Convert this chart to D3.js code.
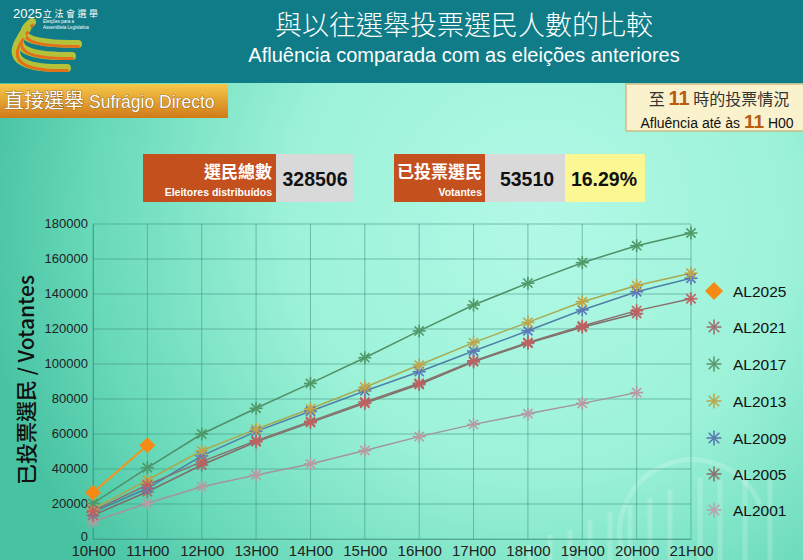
<!DOCTYPE html>
<html><head><meta charset="utf-8">
<script src="https://cdn.jsdelivr.net/npm/d3@7"></script>
<style>
html,body{margin:0;padding:0;overflow:hidden;background:#0f7c88}
svg{display:block;font-family:"Liberation Sans",Arial,sans-serif}
</style></head><body>
<svg id="c" width="803" height="560"></svg>
<script>
const hours = ["10H00","11H00","12H00","13H00","14H00","15H00","16H00","17H00","18H00","19H00","20H00","21H00"];
const seriesNames = ["AL2025","AL2021","AL2017","AL2013","AL2009","AL2005","AL2001"];
const al2025 = [26500, 53510];
const al2021 = [16000, 30900, 44200, 56200, 67200, 78300, 89000, 101800, 112300, 121700, 130500, 137279];
const al2017 = [20400, 40700, 60000, 74700, 88900, 103600, 118900, 133700, 146200, 157900, 167600, 174872];
const al2013 = [17000, 33700, 50400, 62700, 74400, 86700, 99400, 112200, 123800, 135600, 144800, 151881];
const al2009 = [15300, 29000, 47500, 61500, 73000, 84600, 95600, 107400, 119000, 130900, 141300, 149006];
const al2005 = [13500, 27000, 42300, 55500, 66500, 77500, 88300, 101200, 111800, 121000, 128830];
const al2001 = [10000, 20400, 29900, 36600, 42900, 50600, 58500, 65500, 71600, 77500, 83644];
const yTicks = [0,20000,40000,60000,80000,100000,120000,140000,160000,180000];
const totalElectors = 328506;
const voters = 53510;
const pct = "16.29%";
const currentHour = "11";

const svg = d3.select("#c");
const W = 803, H = 560;
const defs = svg.append("defs");
const CJK = "'Noto Sans CJK TC','Noto Sans CJK SC',sans-serif";

// background gradient
const rg = defs.append("radialGradient").attr("id","bg").attr("gradientUnits","userSpaceOnUse")
  .attr("cx",540).attr("cy",220).attr("r",560);
rg.append("stop").attr("offset","0").attr("stop-color","#b2f9e7");
rg.append("stop").attr("offset","0.45").attr("stop-color","#9cf2d8");
rg.append("stop").attr("offset","0.8").attr("stop-color","#68d9b9");
rg.append("stop").attr("offset","1").attr("stop-color","#48c3a2");
svg.append("rect").attr("width",W).attr("height",H).attr("fill","url(#bg)");

// header
svg.append("rect").attr("width",W).attr("height",83).attr("fill","#0f7c88");
svg.append("text").attr("x",464).attr("y",35).attr("text-anchor","middle")
  .attr("font-family",CJK).attr("font-size",27).attr("font-weight",300)
  .attr("fill","#fff").text("與以往選舉投票選民人數的比較");
svg.append("text").attr("x",464).attr("y",62).attr("text-anchor","middle")
  .attr("font-size",20).attr("fill","#fff").text("Afluência comparada com as eleições anteriores");

// logo
const logo = svg.append("g");
const arcPaths = ["M32,22 Q4,44 78,44","M27,29 Q1,57 72,56","M22,36 Q-2,70 67,68"];
arcPaths.forEach(p=>{
  logo.append("path").attr("d",p).attr("fill","none").attr("stroke","#b4c23a").attr("stroke-width",8).attr("stroke-linecap","round");
  logo.append("path").attr("d",p).attr("fill","none").attr("stroke","#e0701c").attr("stroke-width",3).attr("transform","translate(1.5,2.5)");
});
logo.append("text").attr("x",13).attr("y",18).attr("font-size",13).attr("fill","#fff").text("2025");
logo.append("text").attr("x",43).attr("y",17).attr("font-size",9)
  .attr("font-family",CJK).attr("fill","#fff").attr("letter-spacing",2.5).text("立法會選舉");
logo.append("text").attr("x",43).attr("y",23).attr("font-size",4.5).attr("fill","#fff").text("Eleições para a");
logo.append("text").attr("x",43).attr("y",29).attr("font-size",4.5).attr("fill","#fff").text("Assembleia Legislativa");

// left badge
const lg = defs.append("linearGradient").attr("id","badge").attr("x1",0).attr("y1",0).attr("x2",0).attr("y2",1);
lg.append("stop").attr("offset","0").attr("stop-color","#f6c84a");
lg.append("stop").attr("offset","1").attr("stop-color","#d07a18");
svg.append("rect").attr("x",0).attr("y",84).attr("width",228).attr("height",34).attr("fill","url(#badge)");
const bt = svg.append("text").attr("x",4).attr("y",108).attr("fill","#fff")
  .attr("stroke","#7a4a10").attr("stroke-width",0.7).attr("paint-order","stroke");
bt.append("tspan").attr("font-family",CJK).attr("font-size",20).text("直接選舉");
bt.append("tspan").attr("dx",5).attr("font-size",17.5).text("Sufrágio Directo");

// right badge
svg.append("rect").attr("x",626).attr("y",84).attr("width",180).attr("height",47)
  .attr("fill","#faf2cc").attr("stroke","#c9a060").attr("stroke-width",1);
const r1 = svg.append("text").attr("x",719).attr("y",105).attr("text-anchor","middle")
  .attr("font-family",CJK).attr("font-size",16).attr("fill","#333");
r1.append("tspan").text("至 ");
r1.append("tspan").attr("font-family","'Liberation Sans',Arial,sans-serif").attr("font-weight","bold").attr("font-size",20).attr("fill","#b85c10").text(currentHour);
r1.append("tspan").text(" 時的投票情況");
const r2 = svg.append("text").attr("x",717).attr("y",128).attr("text-anchor","middle").attr("font-size",14).attr("fill","#111");
r2.append("tspan").text("Afluência até às ");
r2.append("tspan").attr("font-weight","bold").attr("font-size",19).attr("fill","#b85c10").text(currentHour);
r2.append("tspan").text(" H00");

// info boxes
const red = "#c4501e";
svg.append("rect").attr("x",143).attr("y",154).attr("width",133).attr("height",48).attr("fill",red);
svg.append("rect").attr("x",276).attr("y",154).attr("width",77).attr("height",48).attr("fill","#d9d9d9");
svg.append("text").attr("x",272).attr("y",178).attr("text-anchor","end").attr("fill","#fff")
  .attr("font-family",CJK).attr("font-weight","bold").attr("font-size",17).text("選民總數");
svg.append("text").attr("x",272).attr("y",196).attr("text-anchor","end").attr("fill","#fff")
  .attr("font-weight","bold").attr("font-size",10.5).text("Eleitores distribuídos");
svg.append("text").attr("x",315).attr("y",186).attr("text-anchor","middle").attr("fill","#111")
  .attr("font-weight","bold").attr("font-size",19.5).text(totalElectors);

svg.append("rect").attr("x",394).attr("y",154).attr("width",91).attr("height",48).attr("fill",red);
svg.append("rect").attr("x",485).attr("y",154).attr("width",80).attr("height",48).attr("fill","#d9d9d9");
svg.append("rect").attr("x",565).attr("y",154).attr("width",80).attr("height",48).attr("fill","#fbf893");
svg.append("text").attr("x",482).attr("y",178).attr("text-anchor","end").attr("fill","#fff")
  .attr("font-family",CJK).attr("font-weight","bold").attr("font-size",17).text("已投票選民");
svg.append("text").attr("x",482).attr("y",196).attr("text-anchor","end").attr("fill","#fff")
  .attr("font-weight","bold").attr("font-size",10.5).text("Votantes");
svg.append("text").attr("x",527).attr("y",186).attr("text-anchor","middle").attr("fill","#111")
  .attr("font-weight","bold").attr("font-size",19.5).text(voters);
svg.append("text").attr("x",604).attr("y",186).attr("text-anchor","middle").attr("fill","#111")
  .attr("font-weight","bold").attr("font-size",19.5).text(pct);

// watermark (faint)
const wm = svg.append("g").attr("fill","none").attr("stroke","#ffffff").attr("stroke-opacity",0.18).attr("stroke-width",5);
wm.append("path").attr("d","M530,560 L530,545 M550,560 L550,535 M570,560 L570,530 M590,560 L590,520 M610,560 L610,512 M630,560 L630,505 M650,560 L650,498 M670,560 L670,490");
wm.append("path").attr("d","M625,560 A70,70 0 0 1 760,505");
wm.append("path").attr("d","M700,560 L700,478 M720,560 L720,480 M745,560 L745,470 M770,560 L770,480");

// chart
const x = d3.scalePoint().domain(hours).range([93,691]);
const y = d3.scaleLinear().domain([0,180000]).range([539,224]);
const g = svg.append("g");
g.append("g").selectAll("line").data(yTicks).join("line")
  .attr("x1",93).attr("x2",691).attr("y1",d=>y(d)).attr("y2",d=>y(d))
  .attr("stroke","#3f8f7e").attr("stroke-opacity",0.55).attr("stroke-width",1);
g.append("g").selectAll("line").data(hours).join("line")
  .attr("x1",d=>x(d)).attr("x2",d=>x(d)).attr("y1",224).attr("y2",539)
  .attr("stroke","#3f8f7e").attr("stroke-opacity",0.55).attr("stroke-width",1);

const yAxis = g.append("g").attr("transform","translate(93,0)")
  .call(d3.axisLeft(y).tickValues(yTicks).tickSize(0).tickPadding(5).tickFormat(d3.format("d")));
yAxis.select(".domain").attr("stroke","#3f8f7e").attr("stroke-opacity",0.6);
yAxis.selectAll("text").attr("font-size",13).attr("fill","#222").attr("dy","0.28em")
  .attr("font-family","'Liberation Sans',Arial,sans-serif");
yAxis.selectAll(".tick").filter(d=>d===0).select("text").attr("dy","0.1em");
const xAxis = g.append("g").attr("transform","translate(0,539)")
  .call(d3.axisBottom(x).tickSize(0).tickPadding(7));
xAxis.select(".domain").attr("stroke","#3f8f7e").attr("stroke-opacity",0.6);
xAxis.selectAll("text").attr("font-size",15).attr("fill","#222").attr("dy","0.68em")
  .attr("font-family","'Liberation Sans',Arial,sans-serif");

svg.append("text").attr("transform","translate(34,380) rotate(-90)").attr("text-anchor","middle")
  .attr("font-size",21).attr("fill","#111").attr("font-weight",500)
  .attr("font-family",CJK).text("已投票選民 / Votantes");

const series = [
  {name:"AL2001", vals:al2001, line:"#a4949a", mk:"#b89aa2"},
  {name:"AL2005", vals:al2005, line:"#7e6e6a", mk:"#a86a6a"},
  {name:"AL2009", vals:al2009, line:"#4f7fa8", mk:"#5a78b8"},
  {name:"AL2013", vals:al2013, line:"#a8aa50", mk:"#c2a448"},
  {name:"AL2017", vals:al2017, line:"#4f9068", mk:"#4f9a68"},
  {name:"AL2021", vals:al2021, line:"#8a706c", mk:"#c06060"},
  {name:"AL2025", vals:al2025, line:"#f0961e", mk:"#f58a14"}
];
const line = d3.line().x((d,i)=>x(hours[i])).y(d=>y(d));
function star(sel, cx, cy, col, r){
  const gg = sel.append("g").attr("transform",`translate(${cx},${cy})`).attr("stroke",col).attr("stroke-width",1.6);
  [0,45,90,135].forEach(a=>{
    const rad=a*Math.PI/180;
    gg.append("line").attr("x1",-r*Math.cos(rad)).attr("y1",-r*Math.sin(rad)).attr("x2",r*Math.cos(rad)).attr("y2",r*Math.sin(rad));
  });
}
function diamond(sel, cx, cy, col, r){
  sel.append("path").attr("d",`M${cx},${cy-r} L${cx+r},${cy} L${cx},${cy+r} L${cx-r},${cy} Z`).attr("fill",col);
}
series.forEach(s=>{
  g.append("path").datum(s.vals).attr("d",line).attr("fill","none").attr("stroke",s.line).attr("stroke-width",s.name==="AL2025"?2:1.5);
});
series.forEach(s=>{
  s.vals.forEach((v,i)=>{
    if(s.name==="AL2025") diamond(g, x(hours[i]), y(v), s.mk, 8);
    else star(g, x(hours[i]), y(v), s.mk, 6.5);
  });
});

// legend
const legendY = [291,327,364,401,438,474,510];
const legendCols = {"AL2025":"#f58a14","AL2021":"#a07070","AL2017":"#5a9a70","AL2013":"#b8a850","AL2009":"#5a78b0","AL2005":"#887470","AL2001":"#b8a4aa"};
seriesNames.forEach((n,i)=>{
  const cy = legendY[i];
  if(n==="AL2025") diamond(svg, 714, cy, legendCols[n], 9);
  else star(svg, 714, cy, legendCols[n], 7.5);
  svg.append("text").attr("x",733).attr("y",cy+6).attr("font-size",15.5).attr("fill","#111").text(n);
});
</script>
</body></html>
